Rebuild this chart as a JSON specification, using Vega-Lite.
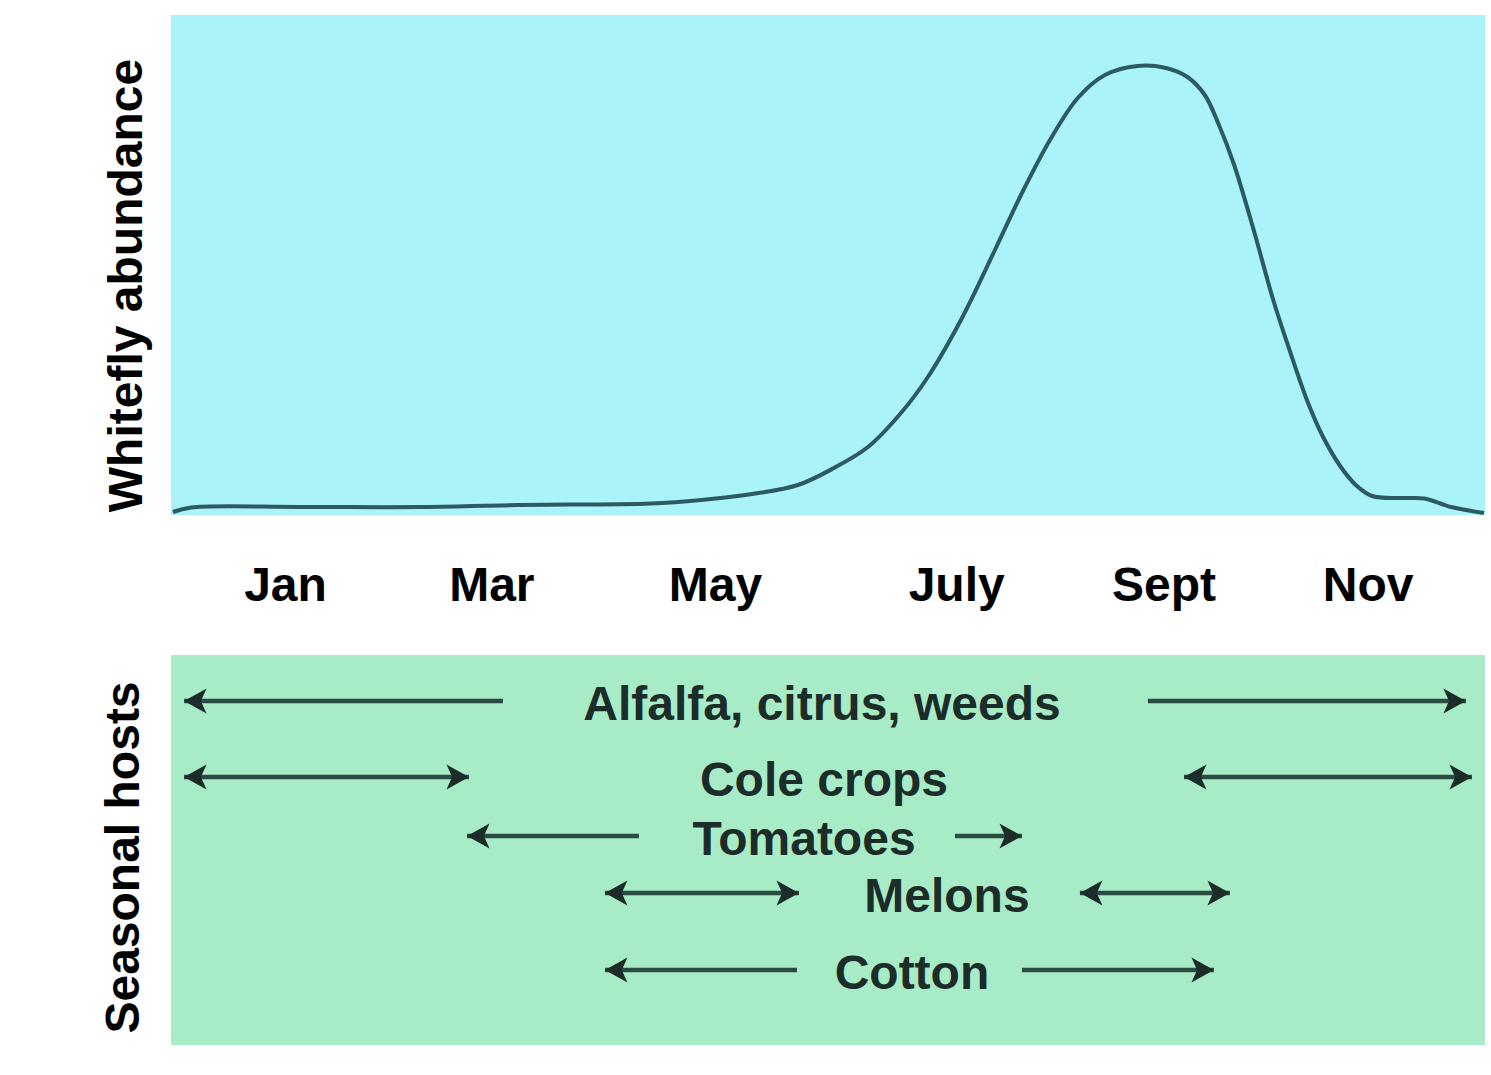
{
  "$schema": "https://vega.github.io/schema/vega-lite/v6.json",
  "autosize": {"type": "pad"},
  "padding": {"left": 100, "top": 15, "right": 7, "bottom": 30},
  "background": "white",
  "spacing": 140,
  "bounds": "flush",
  "config": {
    "font": "Liberation Sans",
    "view": {"stroke": null},
    "axis": {"grid": false, "domain": false, "ticks": false, "tickSize": 0}
  },
  "datasets": {
    "curve": [
      {"month": 0.018, "abundance": 0.6},
      {"month": 0.184, "abundance": 1.5},
      {"month": 1.197, "abundance": 1.6},
      {"month": 2.274, "abundance": 1.6},
      {"month": 3.195, "abundance": 2.0},
      {"month": 4.42, "abundance": 2.3},
      {"month": 4.88, "abundance": 3.0},
      {"month": 5.35, "abundance": 4.2},
      {"month": 5.773, "abundance": 6.0},
      {"month": 6.105, "abundance": 9.4},
      {"month": 6.418, "abundance": 13.6},
      {"month": 6.722, "abundance": 20.4},
      {"month": 6.97, "abundance": 27.6},
      {"month": 7.274, "abundance": 39.0},
      {"month": 7.587, "abundance": 53.0},
      {"month": 7.827, "abundance": 64.0},
      {"month": 8.094, "abundance": 75.0},
      {"month": 8.35, "abundance": 83.4},
      {"month": 8.6, "abundance": 88.0},
      {"month": 8.9, "abundance": 89.8},
      {"month": 9.162, "abundance": 89.4},
      {"month": 9.36, "abundance": 87.6},
      {"month": 9.52, "abundance": 84.0},
      {"month": 9.65, "abundance": 78.0},
      {"month": 9.79, "abundance": 70.0},
      {"month": 9.97, "abundance": 57.0},
      {"month": 10.15, "abundance": 43.0},
      {"month": 10.30, "abundance": 33.0},
      {"month": 10.46, "abundance": 23.0},
      {"month": 10.6, "abundance": 16.0},
      {"month": 10.76, "abundance": 10.0},
      {"month": 10.91, "abundance": 6.0},
      {"month": 11.06, "abundance": 3.8},
      {"month": 11.33, "abundance": 3.4},
      {"month": 11.54, "abundance": 3.3},
      {"month": 11.786, "abundance": 1.6},
      {"month": 12.09, "abundance": 0.4}
    ],
    "arrows": [
      {"host": "Alfalfa, citrus, weeds", "lane": 0.708, "x": 0.12, "x2": 3.057},
      {"host": "Alfalfa, citrus, weeds", "lane": 0.708, "x": 8.996, "x2": 11.924},
      {"host": "Cole crops", "lane": 1.877, "x": 0.12, "x2": 2.744},
      {"host": "Cole crops", "lane": 1.877, "x": 9.328, "x2": 11.98},
      {"host": "Tomatoes", "lane": 2.785, "x": 2.726, "x2": 4.309},
      {"host": "Tomatoes", "lane": 2.785, "x": 7.219, "x2": 7.836},
      {"host": "Melons", "lane": 3.662, "x": 3.996, "x2": 5.783},
      {"host": "Melons", "lane": 3.662, "x": 8.37, "x2": 9.751},
      {"host": "Cotton", "lane": 4.846, "x": 3.996, "x2": 5.764},
      {"host": "Cotton", "lane": 4.846, "x": 7.836, "x2": 9.604}
    ],
    "heads": [
      {"host": "Alfalfa, citrus, weeds", "lane": 0.708, "x": 0.12, "dir": "left"},
      {"host": "Alfalfa, citrus, weeds", "lane": 0.708, "x": 11.924, "dir": "right"},
      {"host": "Cole crops", "lane": 1.877, "x": 0.12, "dir": "left"},
      {"host": "Cole crops", "lane": 1.877, "x": 2.744, "dir": "right"},
      {"host": "Cole crops", "lane": 1.877, "x": 9.328, "dir": "left"},
      {"host": "Cole crops", "lane": 1.877, "x": 11.98, "dir": "right"},
      {"host": "Tomatoes", "lane": 2.785, "x": 2.726, "dir": "left"},
      {"host": "Tomatoes", "lane": 2.785, "x": 7.836, "dir": "right"},
      {"host": "Melons", "lane": 3.662, "x": 3.996, "dir": "left"},
      {"host": "Melons", "lane": 3.662, "x": 5.783, "dir": "right"},
      {"host": "Melons", "lane": 3.662, "x": 8.37, "dir": "left"},
      {"host": "Melons", "lane": 3.662, "x": 9.751, "dir": "right"},
      {"host": "Cotton", "lane": 4.846, "x": 3.996, "dir": "left"},
      {"host": "Cotton", "lane": 4.846, "x": 9.604, "dir": "right"}
    ],
    "hosts": [
      {"host": "Alfalfa, citrus, weeds", "lane": 0.708, "x": 5.995},
      {"host": "Cole crops", "lane": 1.877, "x": 6.013},
      {"host": "Tomatoes", "lane": 2.785, "x": 5.829},
      {"host": "Melons", "lane": 3.662, "x": 7.145},
      {"host": "Cotton", "lane": 4.846, "x": 6.823}
    ]
  },
  "vconcat": [
    {
      "width": 1314,
      "height": 500,
      "view": {"fill": "#aaf3f9", "stroke": null},
      "data": {"name": "curve"},
      "mark": {"type": "line", "color": "#2c5962", "strokeWidth": 4, "interpolate": "catmull-rom"},
      "encoding": {
        "x": {
          "field": "month",
          "type": "quantitative",
          "scale": {"domain": [0, 12.1], "nice": false, "zero": false},
          "axis": {
            "values": [1.05, 2.95, 5.01, 7.23, 9.14, 11.02],
            "labelExpr": "datum.value < 2 ? 'Jan' : datum.value < 4 ? 'Mar' : datum.value < 6 ? 'May' : datum.value < 8 ? 'July' : datum.value < 10 ? 'Sept' : 'Nov'",
            "labelFontSize": 48,
            "labelFontWeight": "bold",
            "labelColor": "#000000",
            "labelPadding": 85,
            "labelBaseline": "alphabetic",
            "labelFlush": false,
            "labelOverlap": false,
            "title": null
          }
        },
        "y": {
          "field": "abundance",
          "type": "quantitative",
          "scale": {"domain": [0, 100], "nice": false},
          "axis": {
            "title": "Whitefly abundance",
            "labels": false,
            "titleFontSize": 48,
            "titleFontWeight": "bold",
            "titleColor": "#000000",
            "titleAngle": -90,
            "titleX": -30,
            "titleY": 270,
            "titleAlign": "center",
            "titleBaseline": "alphabetic"
          }
        }
      }
    },
    {
      "width": 1314,
      "height": 390,
      "view": {"fill": "#a7ebc7", "stroke": null},
      "encoding": {
        "x": {"field": "x", "type": "quantitative", "scale": {"domain": [0, 12.1], "nice": false, "zero": false}, "axis": null},
        "y": {
          "field": "lane",
          "type": "quantitative",
          "scale": {"domain": [0, 6], "reverse": true, "nice": false, "zero": false},
          "axis": {
            "title": "Seasonal hosts",
            "labels": false,
            "titleFontSize": 48,
            "titleFontWeight": "bold",
            "titleColor": "#000000",
            "titleAngle": -90,
            "titleX": -33,
            "titleY": 202,
            "titleAlign": "center",
            "titleBaseline": "alphabetic"
          }
        }
      },
      "layer": [
        {
          "data": {"name": "arrows"},
          "mark": {"type": "rule", "color": "#2a4a44", "strokeWidth": 4.5},
          "encoding": {"x2": {"field": "x2"}}
        },
        {
          "data": {"name": "heads"},
          "mark": {"type": "point", "filled": true, "size": 625, "color": "#1c2c28", "opacity": 1, "strokeWidth": 0},
          "encoding": {
            "shape": {
              "field": "dir",
              "type": "nominal",
              "scale": {"domain": ["left", "right"], "range": ["M0,0L1.8,-1L1.35,0L1.8,1Z", "M0,0L-1.8,-1L-1.35,0L-1.8,1Z"]},
              "legend": null
            }
          }
        },
        {
          "data": {"name": "hosts"},
          "mark": {"type": "text", "fontSize": 48, "fontWeight": "bold", "color": "#1c2c29", "align": "center", "baseline": "alphabetic", "dy": 19},
          "encoding": {"text": {"field": "host"}}
        }
      ]
    }
  ]
}
